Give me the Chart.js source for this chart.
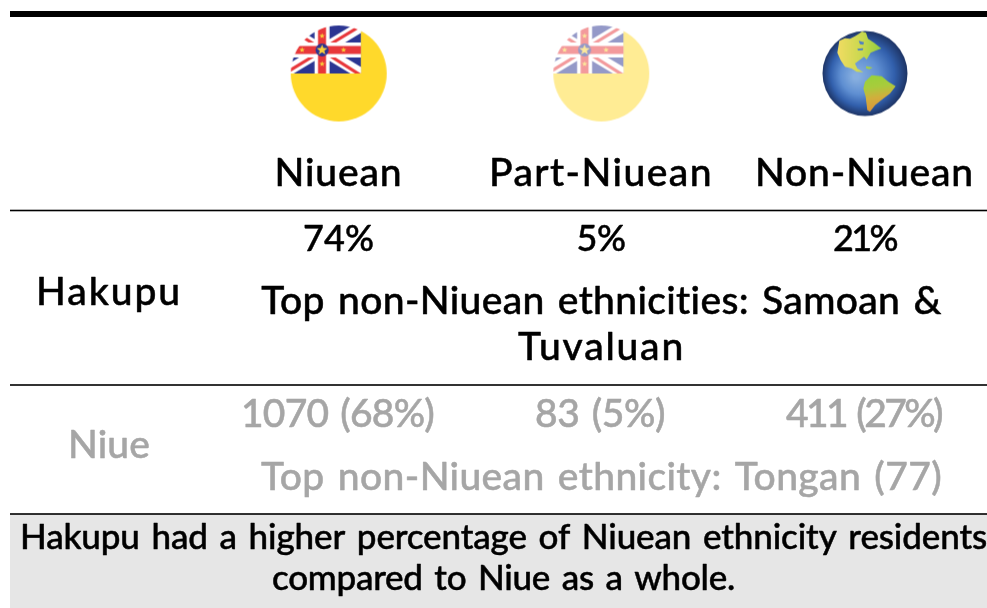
<!DOCTYPE html>
<html><head><meta charset="utf-8">
<style>html,body{margin:0;padding:0;background:#fff;overflow:hidden}#w{width:987px;height:608px;position:relative}canvas{display:block}</style>
<script src="https://cdn.jsdelivr.net/npm/chart.js@4/dist/chart.umd.min.js"></script>
</head><body><div id="w"><canvas id="c" width="987" height="608"></canvas></div>
<script>
// ---- data ----
const categories = ['Niuean', 'Part-Niuean', 'Non-Niuean'];
const hakupuPct = [74, 5, 21];
const niueCounts = [1070, 83, 411];
const niuePct = [68, 5, 27];
const rowLabels = ['Hakupu', 'Niue'];
const hakupuNote = ['Top non-Niuean ethnicities: Samoan &', 'Tuvaluan'];
const niueNote = ['Top non-Niuean ethnicity: Tongan (77)'];
const footer = ['Hakupu had a higher percentage of Niuean ethnicity residents', 'compared to Niue as a whole.'];

// ---- layout (scale units equal canvas pixels) ----
const COL = [338.5, 601, 864.5];
const ICON_Y = 73.5, ICON_COL = [338.7, 601.3, 865];
const RULES = [{y:14, w:6}, {y:210.5, w:1.6}, {y:385, w:1.6}, {y:514, w:1.6}];
const LEFT = 10, RIGHT = 987;
const BLACK = '#000', GREY = '#a6a6a6';
const FONT = 'Lato';

// ---- icons ----
function flagIcon(alpha){
  const c = document.createElement('canvas'); c.width = c.height = 100;
  const g = c.getContext('2d');
  g.filter = 'blur(0.45px)';
  g.translate(50,50);
  g.beginPath(); g.arc(0,0,48,0,Math.PI*2); g.clip();
  const layer = document.createElement('canvas'); layer.width = layer.height = 100;
  const h = layer.getContext('2d');
  h.translate(50,50);
  h.fillStyle = '#ffd92b'; h.fillRect(-50,-50,100,100);
  const cx=-16.7, cy=-23.5, hw=39, hh=23.5;
  h.save(); h.beginPath(); h.rect(cx-hw,cy-hh-3,hw*2,hh*2+3); h.clip();
  h.fillStyle='#2b3592'; h.fillRect(cx-hw,cy-hh-3,hw*2,hh*2+3);
  h.strokeStyle='#fff'; h.lineWidth=11;
  h.beginPath(); h.moveTo(cx-hw,cy-hh); h.lineTo(cx+hw,cy+hh); h.moveTo(cx-hw,cy+hh); h.lineTo(cx+hw,cy-hh); h.stroke();
  h.strokeStyle='#e8373a'; h.lineWidth=3.2;
  h.beginPath(); h.moveTo(cx-hw,cy-hh-2); h.lineTo(cx-2,cy-2); h.moveTo(cx+2,cy+2); h.lineTo(cx+hw,cy+hh+2);
  h.moveTo(cx-hw,cy+hh+1); h.lineTo(cx-2,cy+2); h.moveTo(cx+2,cy-2); h.lineTo(cx+hw,cy-hh-1); h.stroke();
  h.fillStyle='#fff'; h.fillRect(cx-7.5,cy-hh-3,15,hh*2+3); h.fillRect(cx-hw,cy-7.5,hw*2,15);
  h.fillStyle='#e8373a'; h.fillRect(cx-4,cy-hh-3,8,hh*2+3); h.fillRect(cx-hw,cy-4,hw*2,8);
  h.restore();
  h.fillStyle='#2b3592'; h.beginPath(); h.arc(cx,cy,6.5,0,Math.PI*2); h.fill();
  const star=(x,y,r)=>{h.fillStyle='#fbd13a';h.beginPath();for(let i=0;i<10;i++){const a=-Math.PI/2+i*Math.PI/5,q=i%2?r*0.42:r;h.lineTo(x+q*Math.cos(a),y+q*Math.sin(a));}h.closePath();h.fill();};
  star(cx,cy,5.6); star(cx,cy-14,2.9); star(cx,cy+14,2.9); star(cx-20,cy,2.9); star(cx+21.5,cy,2.9);
  g.globalAlpha = alpha;
  g.drawImage(layer,-50,-50);
  return c;
}
function globeIcon(){
  const c = document.createElement('canvas'); c.width = c.height = 100;
  const g = c.getContext('2d');
  g.filter='blur(0.4px)';
  g.translate(50,50);
  g.beginPath(); g.arc(0,0,42.5,0,Math.PI*2); g.clip();
  const r = g.createRadialGradient(-9,3,3,0,0,43);
  r.addColorStop(0,'#86aedf'); r.addColorStop(0.4,'#5f8fd2'); r.addColorStop(0.72,'#3260ad'); r.addColorStop(1,'#1c3262');
  g.fillStyle=r; g.fillRect(-50,-50,100,100);
  const poly=(pts)=>{g.beginPath();pts.forEach(p=>g.lineTo((p[0]-195)/3,(p[1]-190)/3));g.closePath();g.fill();};
  const na=g.createLinearGradient(-27,0,17,0); na.addColorStop(0,'#f0dc62'); na.addColorStop(0.55,'#c9d84e'); na.addColorStop(1,'#8fce3d');
  g.fillStyle=na;
  poly([[118,92],[135,84],[150,86],[165,78],[178,70],[186,64],[198,68],[204,86],[222,98],[244,115],[226,122],[212,128],[200,148],[192,140],[178,150],[165,160],[172,175],[190,186],[170,185],[155,175],[135,170],[122,150],[112,128]]);
  g.fillStyle='#4f80c4'; poly([[176,92],[192,96],[190,104],[180,102]]); poly([[172,116],[190,114],[188,120],[174,121]]);
  g.fillStyle='#a5d040'; poly([[198,168],[218,172],[208,177],[198,174]]);
  const sa=g.createLinearGradient(0,2,6,38); sa.addColorStop(0,'#96d23a'); sa.addColorStop(0.35,'#a8cc3c'); sa.addColorStop(0.65,'#d2ae3c'); sa.addColorStop(1,'#d9963a');
  g.fillStyle=sa;
  poly([[195,215],[215,195],[245,198],[265,215],[287,228],[270,250],[250,265],[225,285],[210,305],[202,300],[197,260],[190,235]]);
  return c;
}

// ---- text table: every entry built from the arrays above ----
const texts = [
  [categories[0], COL[0], 186, 39, 128, BLACK],
  [categories[1], COL[1], 186, 39, 224, BLACK],
  [categories[2], COL[2], 186, 39, 219, BLACK],
  [hakupuPct[0]+'%', COL[0], 251, 36, 71, BLACK],
  [hakupuPct[1]+'%', COL[1], 251, 36, 49, BLACK],
  [hakupuPct[2]+'%', COL[2], 251, 36, 63, BLACK],
  [rowLabels[0], 109, 305, 39, 146, BLACK],
  [hakupuNote[0], 601.5, 314, 39, 681, BLACK],
  [hakupuNote[1], 601.5, 360, 39, 167, BLACK],
  [niueCounts[0]+' ('+niuePct[0]+'%)', 337.5, 427, 39, 193, GREY],
  [niueCounts[1]+' ('+niuePct[1]+'%)', 600, 427, 39, 130, GREY],
  [niueCounts[2]+' ('+niuePct[2]+'%)', 863.5, 427, 39, 155, GREY],
  [rowLabels[1], 109, 458, 39, 82, GREY],
  [niueNote[0], 601.5, 490, 39, 681, GREY],
  [footer[0], 503.5, 549, 35, 967, BLACK],
  [footer[1], 503.5, 590, 35, 463, BLACK]
];

const tablePlugin = {
  id:'table',
  beforeDatasetsDraw(ch){
    const {ctx, scales:{x,y}} = ch;
    ctx.save();
    ctx.fillStyle='#e6e6e6';
    ctx.fillRect(x.getPixelForValue(LEFT), y.getPixelForValue(RULES[3].y), x.getPixelForValue(RIGHT)-x.getPixelForValue(LEFT), y.getPixelForValue(608)-y.getPixelForValue(RULES[3].y));
    ctx.fillStyle='#000';
    RULES.forEach(r=>{ctx.fillRect(x.getPixelForValue(LEFT), y.getPixelForValue(r.y)-r.w/2, x.getPixelForValue(RIGHT)-x.getPixelForValue(LEFT), r.w);});
    ctx.restore();
  },
  afterDatasetsDraw(ch){
    const {ctx, scales:{x,y}} = ch;
    ctx.save();
    ctx.textAlign='center'; ctx.textBaseline='alphabetic';
    ctx.lineJoin='round';
    texts.forEach(([s,px,py,size,width,col])=>{
      ctx.font = `500 ${size}px ${FONT}, sans-serif`;
      ctx.wordSpacing='3px';
      ctx.letterSpacing='0px';
      const m = ctx.measureText(s).width;
      ctx.letterSpacing = ((width-m)/s.length).toFixed(3)+'px';
      ctx.fillStyle = col; ctx.strokeStyle = col; ctx.lineWidth = 0.5;
      const X = x.getPixelForValue(px), Y = y.getPixelForValue(py);
      ctx.fillText(s, X, Y);
      ctx.strokeText(s, X, Y);
    });
    ctx.restore();
  }
};

new Chart(document.getElementById('c'), {
  type:'scatter',
  data:{datasets:[{
    label:'Ethnic groups',
    data: categories.map((c,i)=>({x:ICON_COL[i], y:ICON_Y})),
    pointStyle:[flagIcon(1), flagIcon(0.5), globeIcon()],
    pointRadius:50, pointHoverRadius:50, clip:false
  }]},
  options:{
    responsive:false, animation:false, devicePixelRatio:1,
    layout:{padding:0, autoPadding:false},
    plugins:{legend:{display:false}, title:{display:false}, tooltip:{enabled:false}},
    scales:{
      x:{type:'linear', min:0, max:987, display:false},
      y:{type:'linear', min:0, max:608, reverse:true, display:false}
    }
  },
  plugins:[tablePlugin]
});
</script></body></html>
